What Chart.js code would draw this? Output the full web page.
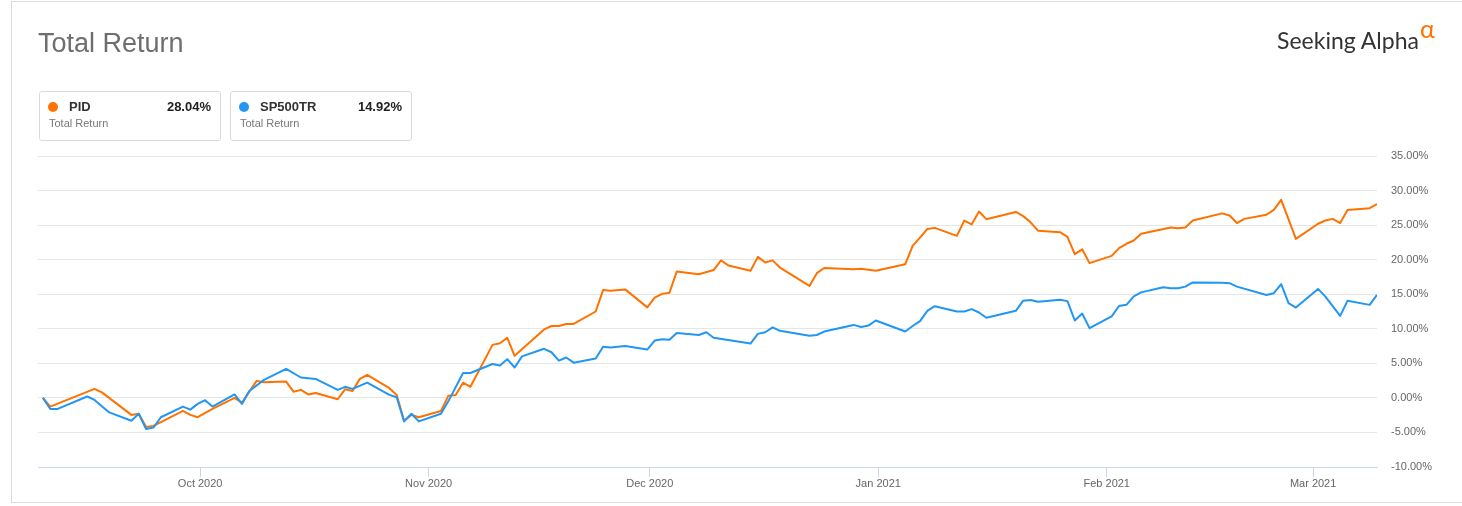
<!DOCTYPE html>
<html lang="en">
<head>
    <meta charset="UTF-8">
    <title>Total Return</title>
    <style>
        html, body { margin: 0; padding: 0; background: #fff; }
        body { width: 1462px; height: 506px; position: relative; overflow: hidden; font-family: "Liberation Sans", Arial, sans-serif; }
        .frame { position: absolute; left: 11px; top: 1px; width: 1460px; height: 502px; border: 1px solid #dcdcdc; box-sizing: border-box; }
        .chart-wrap { position: absolute; left: 0; top: 0; width: 1462px; height: 506px; }
        .title { position: absolute; left: 38px; top: 28px; font-size: 27px; color: #6e6e6e; line-height: 30px; }
        .logo { position: absolute; left: 1277px; top: 25px; font-family: Lato, "Open Sans", sans-serif; font-size: 23px; color: #333; line-height: 30px; white-space: nowrap; }
        .logo sup { color: #ff7200; font-size: 25px; position: relative; top: -2px; margin-left: 1px; line-height: 0; }
        .legend-box { position: absolute; top: 91px; width: 182px; height: 50px; border: 1px solid #d9d9d9; border-radius: 3px; box-sizing: border-box; }
        .legend-box .dot { position: absolute; left: 8px; top: 10px; width: 10px; height: 10px; border-radius: 50%; }
        .legend-box .name { position: absolute; left: 29px; top: 7px; font-size: 13px; font-weight: bold; color: #333; }
        .legend-box .value { position: absolute; right: 9px; top: 7px; font-size: 13px; font-weight: bold; color: #222; }
        .legend-box .sub { position: absolute; left: 9px; top: 25px; font-size: 11px; color: #777; }
    </style>
</head>
<body>

<div class="frame"></div>
<div class="chart-wrap"><canvas id="returnChart"></canvas></div>

<div class="title">Total Return</div>
<div class="logo">Seeking Alpha<sup>&alpha;</sup></div>

<div class="legend-box" style="left:39px;">
    <span class="dot" style="background:#ff7200;"></span>
    <span class="name">PID</span>
    <span class="value">28.04%</span>
    <span class="sub">Total Return</span>
</div>
<div class="legend-box" style="left:230px;">
    <span class="dot" style="background:#2196f3;"></span>
    <span class="name">SP500TR</span>
    <span class="value">14.92%</span>
    <span class="sub">Total Return</span>
</div>

<script src="https://cdn.jsdelivr.net/npm/chart.js"></script>
<script>
    // PID total return, %
    const pidDates = [
        '2020-09-09', '2020-09-10', '2020-09-16', '2020-09-17', '2020-09-21', '2020-09-22', '2020-09-23', '2020-09-24',
        '2020-09-28', '2020-09-29', '2020-09-30', '2020-10-02', '2020-10-05', '2020-10-06', '2020-10-07', '2020-10-08',
        '2020-10-09', '2020-10-12', '2020-10-13', '2020-10-14', '2020-10-15', '2020-10-16', '2020-10-19', '2020-10-20',
        '2020-10-21', '2020-10-22', '2020-10-23', '2020-10-26', '2020-10-27', '2020-10-28', '2020-10-29', '2020-10-30',
        '2020-11-02', '2020-11-03', '2020-11-04', '2020-11-05', '2020-11-06', '2020-11-09', '2020-11-10', '2020-11-11',
        '2020-11-12', '2020-11-16', '2020-11-17', '2020-11-18', '2020-11-19', '2020-11-20', '2020-11-23', '2020-11-24',
        '2020-11-25', '2020-11-27', '2020-11-30', '2020-12-01', '2020-12-02', '2020-12-03', '2020-12-04', '2020-12-07',
        '2020-12-09', '2020-12-10', '2020-12-11', '2020-12-14', '2020-12-15', '2020-12-16', '2020-12-17', '2020-12-18',
        '2020-12-22', '2020-12-23', '2020-12-24', '2020-12-28', '2020-12-29', '2020-12-31', '2021-01-04', '2021-01-05',
        '2021-01-06', '2021-01-07', '2021-01-08', '2021-01-11', '2021-01-12', '2021-01-13', '2021-01-14', '2021-01-15',
        '2021-01-19', '2021-01-20', '2021-01-21', '2021-01-22', '2021-01-25', '2021-01-26', '2021-01-27', '2021-01-28',
        '2021-01-29', '2021-02-01', '2021-02-02', '2021-02-03', '2021-02-04', '2021-02-05', '2021-02-09', '2021-02-10',
        '2021-02-11', '2021-02-12', '2021-02-16', '2021-02-17', '2021-02-18', '2021-02-19', '2021-02-22', '2021-02-23',
        '2021-02-24', '2021-02-26', '2021-03-01', '2021-03-02', '2021-03-03', '2021-03-04', '2021-03-05', '2021-03-08',
        '2021-03-09'
    ];
    const pidValues = [
        0.00, -1.26, 1.30, 0.80, -2.46, -2.30, -4.20, -4.05,
        -1.88, -2.46, -2.80, -1.60, 0.00, -0.70, 0.90, 2.46,
        2.27, 2.36, 0.90, 1.16, 0.50, 0.70, -0.20, 1.26,
        1.00, 2.75, 3.33, 1.40, 0.43, -3.30, -2.46, -2.80,
        -1.90, 0.30, 0.43, 2.20, 1.60, 7.67, 7.90, 8.70,
        6.08, 9.90, 10.40, 10.40, 10.70, 10.70, 12.50, 15.60,
        15.50, 15.70, 13.10, 14.50, 15.05, 15.20, 18.30, 17.90,
        18.50, 19.90, 19.15, 18.40, 20.40, 19.60, 19.90, 18.86,
        16.20, 18.05, 18.80, 18.60, 18.67, 18.40, 19.35, 22.00,
        23.20, 24.45, 24.60, 23.45, 25.65, 25.10, 26.96, 25.86,
        26.90, 26.30, 25.40, 24.20, 23.98, 23.30, 20.80, 21.50,
        19.50, 20.55, 21.67, 22.30, 22.77, 23.75, 24.65, 24.56,
        24.65, 25.66, 26.70, 26.40, 25.30, 25.90, 26.50, 27.20,
        28.65, 23.00, 25.20, 25.67, 25.90, 25.30, 27.20, 27.45,
        28.04
    ];

    // SP500TR total return, %
    const spxDates = [
        '2020-09-09', '2020-09-10', '2020-09-11', '2020-09-15', '2020-09-16', '2020-09-18', '2020-09-21', '2020-09-22',
        '2020-09-23', '2020-09-24', '2020-09-25', '2020-09-28', '2020-09-29', '2020-09-30', '2020-10-01', '2020-10-02',
        '2020-10-05', '2020-10-06', '2020-10-07', '2020-10-09', '2020-10-12', '2020-10-14', '2020-10-16', '2020-10-19',
        '2020-10-20', '2020-10-21', '2020-10-23', '2020-10-26', '2020-10-27', '2020-10-28', '2020-10-29', '2020-10-30',
        '2020-11-02', '2020-11-03', '2020-11-05', '2020-11-06', '2020-11-09', '2020-11-10', '2020-11-11', '2020-11-12',
        '2020-11-13', '2020-11-16', '2020-11-17', '2020-11-18', '2020-11-19', '2020-11-20', '2020-11-23', '2020-11-24',
        '2020-11-25', '2020-11-27', '2020-11-30', '2020-12-01', '2020-12-02', '2020-12-03', '2020-12-04', '2020-12-07',
        '2020-12-08', '2020-12-09', '2020-12-14', '2020-12-15', '2020-12-16', '2020-12-17', '2020-12-18', '2020-12-22',
        '2020-12-23', '2020-12-24', '2020-12-28', '2020-12-29', '2020-12-30', '2020-12-31', '2021-01-04', '2021-01-05',
        '2021-01-06', '2021-01-07', '2021-01-08', '2021-01-11', '2021-01-12', '2021-01-13', '2021-01-14', '2021-01-15',
        '2021-01-19', '2021-01-20', '2021-01-21', '2021-01-22', '2021-01-25', '2021-01-26', '2021-01-27', '2021-01-28',
        '2021-01-29', '2021-02-01', '2021-02-02', '2021-02-03', '2021-02-04', '2021-02-05', '2021-02-08', '2021-02-09',
        '2021-02-10', '2021-02-11', '2021-02-12', '2021-02-16', '2021-02-17', '2021-02-18', '2021-02-22', '2021-02-23',
        '2021-02-24', '2021-02-25', '2021-02-26', '2021-03-01', '2021-03-02', '2021-03-04', '2021-03-05', '2021-03-08',
        '2021-03-09'
    ];
    const spxValues = [
        0.00, -1.60, -1.60, 0.20, -0.30, -2.10, -3.30, -2.30,
        -4.50, -4.30, -2.80, -1.26, -1.70, -0.87, -0.33, -1.26,
        0.50, -0.87, 1.00, 2.60, 4.20, 2.95, 2.75, 1.16,
        1.60, 1.30, 2.20, 0.43, 0.10, -3.40, -2.30, -3.40,
        -2.30, -0.50, 3.60, 3.60, 4.90, 4.70, 5.60, 4.40,
        6.00, 7.10, 6.60, 5.40, 5.85, 5.10, 5.70, 7.40,
        7.30, 7.50, 7.00, 8.30, 8.50, 8.40, 9.40, 9.10,
        9.50, 8.70, 7.86, 9.26, 9.50, 10.20, 9.70, 9.00,
        9.10, 9.60, 10.56, 10.27, 10.46, 11.20, 9.60, 10.40,
        11.10, 12.60, 13.27, 12.50, 12.50, 12.85, 12.36, 11.60,
        12.60, 14.07, 14.17, 13.90, 14.20, 14.00, 11.20, 12.20,
        10.10, 11.80, 13.30, 13.47, 14.70, 15.27, 16.00, 15.87,
        15.87, 16.10, 16.70, 16.65, 16.60, 16.10, 14.90, 15.15,
        16.45, 13.70, 13.07, 15.77, 14.66, 11.87, 14.04, 13.46,
        14.92
    ];

    // x axis month ticks
    const tickDates = ['2020-10-01', '2020-11-01', '2020-12-01', '2021-01-01', '2021-02-01', '2021-03-01'];
    const tickLabels = ['Oct 2020', 'Nov 2020', 'Dec 2020', 'Jan 2021', 'Feb 2021', 'Mar 2021'];

    // closing prices are stamped at market close
    function closeTime(d) {
        return Date.parse(d + 'T16:00:00Z');
    }

    function toPoints(dates, values) {
        return dates.map((d, i) => ({ x: closeTime(d), y: values[i] }));
    }

    const ctx = document.getElementById('returnChart').getContext('2d');
    new Chart(ctx, {
        type: 'line',
        data: {
            datasets: [{
                label: 'SP500TR',
                data: toPoints(spxDates, spxValues),
                borderColor: '#2196f3',
                borderWidth: 2,
                pointRadius: 0,
                borderJoinStyle: 'round',
                tension: 0,
                fill: false
            }, {
                label: 'PID',
                data: toPoints(pidDates, pidValues),
                borderColor: '#ff7200',
                borderWidth: 2,
                pointRadius: 0,
                borderJoinStyle: 'round',
                tension: 0,
                fill: false
            }]
        },
        options: {
            responsive: true,
            maintainAspectRatio: false,
            animation: false,
            events: [],
            layout: {
                padding: { left: 38, top: 156, right: 0, bottom: 0 }
            },
            plugins: {
                legend: { display: false },
                tooltip: { enabled: false }
            },
            scales: {
                x: {
                    type: 'linear',
                    min: Date.parse('2020-09-09T00:00:00Z'),
                    max: Date.parse('2021-03-09T16:00:00Z'),
                    afterBuildTicks: scale => {
                        scale.ticks = tickDates.map(d => ({ value: Date.parse(d + 'T00:00:00Z') }));
                    },
                    afterFit: scale => { scale.height = 39; },
                    grid: {
                        drawOnChartArea: false,
                        drawTicks: true,
                        tickLength: 10,
                        color: '#ccd6eb'
                    },
                    border: { display: true, color: '#ccd6eb' },
                    ticks: {
                        autoSkip: false,
                        maxRotation: 0,
                        padding: 0,
                        color: '#666',
                        font: { family: '"Liberation Sans", Arial, sans-serif', size: 11 },
                        callback: (value, index) => tickLabels[index]
                    }
                },
                y: {
                    position: 'right',
                    min: -10,
                    max: 35,
                    afterFit: scale => { scale.width = 85; },
                    grid: {
                        color: '#e6e6e6',
                        drawTicks: false
                    },
                    border: { display: false },
                    ticks: {
                        stepSize: 5,
                        padding: 14,
                        color: '#666',
                        font: { family: '"Liberation Sans", Arial, sans-serif', size: 11 },
                        callback: value => value.toFixed(2) + '%'
                    }
                }
            }
        }
    });
</script>

</body>
</html>
